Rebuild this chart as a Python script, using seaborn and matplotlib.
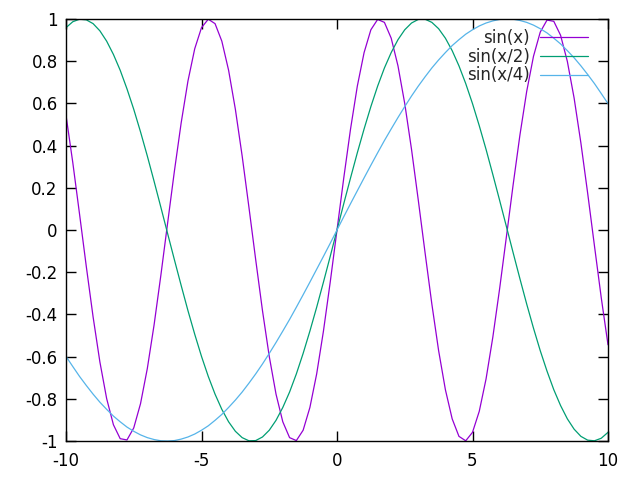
import numpy as np
import pandas as pd
import matplotlib
matplotlib.use("Agg")
import matplotlib.pyplot as plt
import seaborn as sns

x_vals = np.linspace(-10, 10, 81)

sin_x = [
    0.544, 0.320, 0.075, -0.174, -0.412, -0.625, -0.799, -0.923, -0.989, -0.995,
    -0.938, -0.823, -0.657, -0.450, -0.215, 0.033, 0.279, 0.508, 0.706, 0.859,
    0.959, 0.999, 0.978, 0.895, 0.757, 0.572, 0.351, 0.108, -0.141, -0.382,
    -0.599, -0.778, -0.909, -0.984, -0.998, -0.949, -0.841, -0.682, -0.479, -0.247,
    0.000,
    0.247, 0.479, 0.682, 0.841, 0.949, 0.998, 0.984, 0.909, 0.778, 0.599,
    0.382, 0.141, -0.108, -0.351, -0.572, -0.757, -0.895, -0.978, -0.999, -0.959,
    -0.859, -0.706, -0.508, -0.279, -0.033, 0.215, 0.450, 0.657, 0.823, 0.938,
    0.995, 0.989, 0.923, 0.799, 0.625, 0.412, 0.174, -0.075, -0.320, -0.544,
]

sin_x2 = [
    0.959, 0.987, 0.999, 0.996, 0.978, 0.944, 0.895, 0.832, 0.757, 0.669,
    0.572, 0.465, 0.351, 0.231, 0.108, -0.017, -0.141, -0.263, -0.382, -0.494,
    -0.599, -0.694, -0.778, -0.850, -0.909, -0.954, -0.984, -0.999, -0.998, -0.981,
    -0.949, -0.902, -0.841, -0.768, -0.682, -0.585, -0.479, -0.366, -0.247, -0.125,
    0.000,
    0.125, 0.247, 0.366, 0.479, 0.585, 0.682, 0.768, 0.841, 0.902, 0.949,
    0.981, 0.998, 0.999, 0.984, 0.954, 0.909, 0.850, 0.778, 0.694, 0.599,
    0.494, 0.382, 0.263, 0.141, 0.017, -0.108, -0.231, -0.351, -0.465, -0.572,
    -0.669, -0.757, -0.832, -0.895, -0.944, -0.978, -0.996, -0.999, -0.987, -0.959,
]

sin_x4 = [
    -0.599, -0.647, -0.694, -0.737, -0.778, -0.816, -0.850, -0.882, -0.909, -0.934,
    -0.954, -0.971, -0.984, -0.993, -0.999, -1.000, -0.998, -0.991, -0.981, -0.967,
    -0.949, -0.928, -0.902, -0.874, -0.841, -0.806, -0.768, -0.726, -0.682, -0.635,
    -0.585, -0.533, -0.479, -0.424, -0.366, -0.307, -0.247, -0.186, -0.125, -0.063,
    0.000,
    0.063, 0.125, 0.186, 0.247, 0.307, 0.366, 0.424, 0.479, 0.533, 0.585,
    0.635, 0.682, 0.726, 0.768, 0.806, 0.841, 0.874, 0.902, 0.928, 0.949,
    0.967, 0.981, 0.991, 0.998, 1.000, 0.999, 0.993, 0.984, 0.971, 0.954,
    0.934, 0.909, 0.882, 0.850, 0.816, 0.778, 0.737, 0.694, 0.647, 0.599,
]

series_names = ["sin(x)", "sin(x/2)", "sin(x/4)"]
series_colors = ["#9400d3", "#009e73", "#56b4e9"]
y_ticks = [-1, -0.8, -0.6, -0.4, -0.2, 0, 0.2, 0.4, 0.6, 0.8, 1]
x_ticks = [-10, -5, 0, 5, 10]

# --- long-form table for seaborn ---
df = pd.concat([
    pd.DataFrame({"x": x_vals, "y": vals, "func": name})
    for name, vals in zip(series_names, [sin_x, sin_x2, sin_x4])
], ignore_index=True)

sns.set_style("ticks")
plt.rcParams["font.family"] = ["DejaVu Sans"]

fig = plt.figure(figsize=(6.4, 4.8), dpi=100)
ax = fig.add_axes([66 / 640, 39 / 480, 542 / 640, 422 / 480])

sns.lineplot(data=df, x="x", y="y", hue="func", hue_order=series_names,
             palette=dict(zip(series_names, series_colors)),
             sort=False, estimator=None, linewidth=0.9, ax=ax)

ax.set_xlim(-10, 10)
ax.set_ylim(-1, 1)
ax.set_xticks(x_ticks)
ax.set_yticks(y_ticks)
ax.set_xticklabels([str(t) for t in x_ticks])
ax.set_yticklabels(["0" if t == 0 else f"{t:g}" for t in y_ticks])
ax.set_xlabel("")
ax.set_ylabel("")
ax.tick_params(direction="in", length=7, width=1, top=True, right=True,
               labelsize=12, colors="black")
ax.tick_params(axis="x", pad=8)
ax.tick_params(axis="y", pad=6)
for s in ax.spines.values():
    s.set_visible(True)
    s.set_linewidth(1)
    s.set_color("black")

# gnuplot-style key: text right-aligned, sample line on the right
handles, labels = ax.get_legend_handles_labels()
ax.legend(handles, labels, loc="upper right", bbox_to_anchor=(0.963, 0.977),
          markerfirst=False, frameon=False, fontsize=12, handlelength=2.9,
          handletextpad=0.6, labelspacing=0.05, borderpad=0, borderaxespad=0)

fig.savefig("out.png", dpi=100)
